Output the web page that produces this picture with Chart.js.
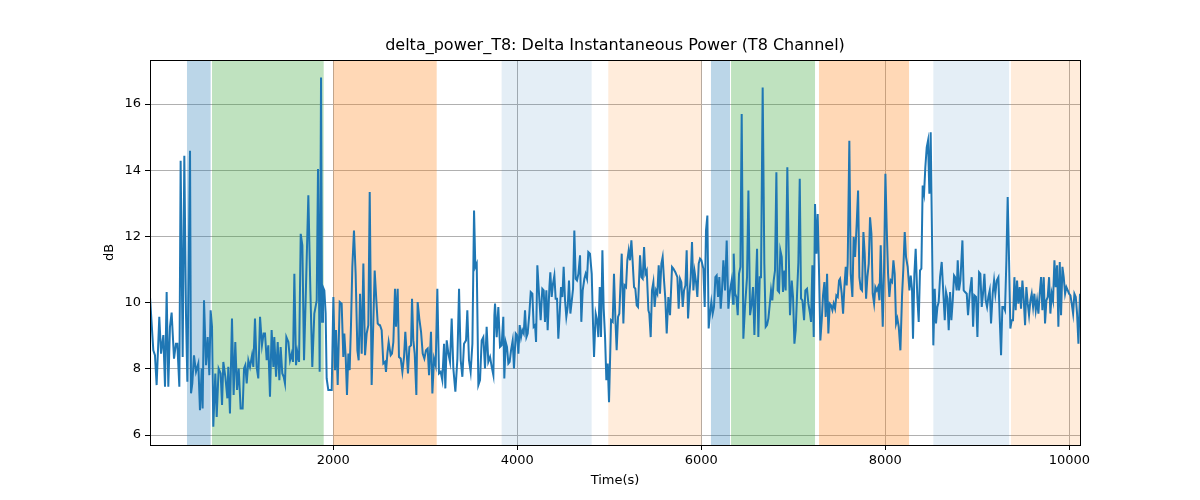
<!DOCTYPE html>
<html>
<head>
<meta charset="utf-8">
<script src="https://cdn.jsdelivr.net/npm/chart.js@4.4.1/dist/chart.umd.min.js"></script>
<style>
  html, body { margin: 0; padding: 0; background: #fff; }
  #wrap { width: 1200px; height: 500px; }
</style>
</head>
<body>
<div id="wrap"><canvas id="powerChart" width="1200" height="500"></canvas></div>
<script>
// sample times (s)
const timeSec = [
  8, 44, 62, 80, 109, 128, 153, 171, 189, 207, 225, 243, 269, 290, 305, 327, 341, 363, 381, 399,
  414, 443, 454, 468, 486, 508, 533, 551, 570, 580, 595, 617, 635, 653, 667, 682, 696, 718, 733, 754,
  776, 791, 805, 827, 849, 859, 877, 899, 917, 935, 954, 972, 993, 1015, 1030, 1044, 1059, 1077, 1095, 1117,
  1131, 1149, 1167, 1185, 1204, 1225, 1243,
  1258, 1276, 1294, 1312, 1330, 1349, 1359, 1378, 1396, 1414, 1428, 1446, 1461, 1475, 1490, 1512, 1530, 1548, 1562, 1577,
  1595, 1609, 1628, 1646, 1664, 1682, 1700, 1729, 1751, 1772, 1794, 1820, 1834, 1852, 1867, 1878, 1888, 1903, 1917, 1928,
  1946, 1965, 1983, 2001, 2019, 2030, 2048, 2070, 2091, 2109, 2120, 2135, 2149, 2164, 2178, 2193, 2207, 2225, 2243, 2262,
  2276, 2291, 2309, 2327, 2345, 2363, 2381, 2396, 2417, 2435, 2450, 2468, 2483, 2501,
  2508, 2526, 2544, 2562, 2573, 2588, 2602, 2624, 2638, 2653, 2671, 2682, 2700, 2714, 2733, 2751, 2769, 2783, 2798, 2812,
  2827, 2845, 2856, 2870, 2885, 2903, 2917, 2935, 2954, 2972, 2990, 3008, 3026, 3041, 3062, 3077, 3095, 3113, 3131, 3149,
  3167, 3185, 3204, 3218, 3233, 3251, 3269, 3287, 3305, 3327, 3349, 3367, 3385, 3403, 3421, 3443, 3457, 3475, 3493, 3512,
  3530, 3544, 3559, 3577, 3595, 3613, 3631, 3649, 3667, 3685, 3704, 3722, 3740, 3751,
  3758, 3776, 3794, 3812, 3830, 3848, 3859, 3874, 3888, 3903, 3917, 3932, 3950, 3964, 3983, 3997, 4012, 4026, 4041, 4055,
  4070, 4084, 4099, 4113, 4131, 4146, 4164, 4178, 4193, 4204, 4218, 4236, 4254, 4272, 4287, 4301, 4316, 4330, 4349, 4359,
  4374, 4388, 4403, 4417, 4432, 4446, 4461, 4475, 4490, 4504, 4519, 4533, 4548, 4562, 4577, 4591, 4606, 4620, 4635, 4649,
  4664, 4682, 4696, 4711, 4729, 4743, 4758, 4772, 4790, 4809, 4823, 4834, 4852, 4867, 4881, 4896, 4910, 4925, 4939, 4954,
  4968, 4983, 4997,
  5019, 5037, 5051, 5066, 5080, 5095, 5109, 5135, 5153, 5167, 5182, 5196, 5211, 5225, 5240, 5254, 5269, 5283, 5298, 5312,
  5334, 5349, 5363, 5378, 5392, 5407, 5425, 5435, 5450, 5464, 5479, 5493, 5508, 5522, 5537, 5551, 5566, 5580, 5595, 5609,
  5624, 5642, 5660, 5682, 5696, 5718, 5740, 5754, 5769, 5783, 5798, 5812, 5827, 5841, 5856, 5870, 5885, 5899, 5914, 5928,
  5943, 5957, 5972, 5986, 6001, 6022, 6037, 6051, 6066, 6080, 6095, 6109, 6124, 6138, 6153, 6167, 6182, 6196, 6211, 6225,
  6240,
  6258, 6276, 6294, 6312, 6330, 6345, 6352, 6367, 6381, 6396, 6410, 6425, 6439, 6457, 6475, 6497, 6512, 6530, 6548, 6562,
  6577, 6595, 6606, 6620, 6635, 6649, 6667, 6685, 6700, 6714, 6729, 6743, 6758, 6772, 6787, 6801, 6816, 6830, 6845, 6859,
  6874, 6888, 6903, 6917, 6935, 6950, 6964, 6983, 6997, 7012, 7026, 7041, 7055, 7070, 7084, 7099, 7117, 7131, 7149, 7164,
  7182, 7193, 7207, 7222, 7236, 7251, 7265, 7280, 7294, 7309, 7323, 7338, 7352, 7367, 7381, 7396, 7410, 7425, 7439, 7454,
  7468, 7483, 7497,
  7508, 7526, 7541, 7555, 7570, 7580, 7591, 7609, 7624, 7642, 7656, 7671, 7689, 7704, 7718, 7733, 7747, 7762, 7776, 7791,
  7805, 7820, 7834, 7849, 7863, 7878, 7892, 7907, 7921, 7936, 7950, 7965, 7972, 7986, 8001, 8015, 8030, 8044, 8059, 8073,
  8088, 8102, 8117, 8131, 8146, 8164, 8182, 8196, 8211, 8225, 8243, 8262, 8276, 8290, 8301, 8316, 8330, 8348, 8363, 8377,
  8392, 8406, 8421, 8435, 8450, 8464, 8479, 8493, 8508, 8522, 8537, 8551, 8566, 8580, 8595, 8613, 8631, 8646, 8660, 8675,
  8689, 8704, 8718, 8733, 8747,
  8758, 8776, 8787, 8801, 8816, 8838, 8852, 8867, 8885, 8899, 8917, 8939, 8954, 8968, 8986, 9001, 9019, 9033, 9048, 9062,
  9077, 9091, 9106, 9120, 9135, 9149, 9167, 9182, 9196, 9211, 9229, 9243, 9258, 9272, 9287, 9301, 9316, 9330, 9345, 9359,
  9374, 9388, 9403, 9417, 9432, 9446, 9461, 9475, 9490, 9504, 9519, 9533, 9548, 9562, 9577, 9591, 9606, 9620, 9635, 9649,
  9664, 9678, 9693, 9707, 9722, 9736, 9751, 9765, 9780, 9794, 9809, 9823, 9838, 9852, 9867, 9881, 9896, 9910, 9925, 9939,
  9954, 9968, 9983, 9997, 10012, 10026, 10041, 10055, 10070, 10084, 10099, 10116
];

// delta power (dB)
const deltaDb = [
  10.17, 8.56, 8.41, 7.51, 9.57, 8.46, 9.02, 7.46, 10.32, 7.46, 9.27, 9.70, 8.31, 8.76, 8.76, 7.46, 14.29, 8.36, 14.44, 9.67,
  7.61, 14.59, 7.26, 7.56, 8.41, 7.91, 8.16, 6.75, 8.01, 6.80, 10.07, 8.11, 8.96, 7.81, 9.77, 9.27, 6.25, 7.86, 6.55, 8.01,
  7.86, 6.91, 8.21, 7.76, 7.11, 8.06, 6.65, 9.52, 7.21, 8.81, 7.36, 8.01, 6.80, 6.80, 8.01, 8.11, 7.56, 8.26, 8.06, 8.41,
  8.06, 9.52, 8.06, 7.71, 9.57, 8.71, 9.07,
  9.07, 8.26, 8.71, 7.16, 9.17, 8.06, 8.96, 7.76, 8.81, 7.66, 8.66, 7.86, 7.76, 7.56, 8.96, 8.81, 8.26, 8.46, 8.21, 10.87,
  8.11, 8.51, 8.21, 12.08, 11.73, 8.26, 10.12, 13.24, 10.37, 8.06, 9.67, 10.07, 14.04, 7.91, 16.80, 9.42, 10.47, 10.37, 9.67, 7.71,
  7.36, 7.36, 7.36, 10.17, 7.96, 9.17, 7.51, 10.02, 9.97, 8.36, 9.07, 8.36, 7.21, 8.46, 7.96, 9.37, 11.08, 12.18, 10.87, 8.56,
  8.26, 10.27, 8.46, 11.18, 8.41, 9.07, 9.32, 13.34, 7.51, 9.37, 10.97, 10.07, 9.37, 9.32,
  9.32, 9.17, 8.16, 8.21, 7.91, 8.46, 8.81, 8.41, 8.46, 8.81, 10.42, 9.27, 10.42, 8.36, 8.31, 7.91, 8.36, 9.12, 8.46, 7.86,
  8.66, 8.71, 10.12, 8.86, 8.46, 7.21, 10.02, 9.52, 9.12, 8.46, 8.31, 8.56, 8.61, 7.81, 9.12, 7.26, 8.31, 8.11, 10.42, 7.86,
  7.91, 7.66, 8.76, 7.41, 8.86, 8.46, 8.21, 9.52, 8.01, 7.31, 8.31, 10.42, 8.26, 7.76, 8.76, 8.86, 9.77, 8.26, 7.91, 8.76,
  12.78, 11.08, 11.18, 7.51, 7.66, 8.86, 8.96, 8.01, 9.27, 8.21, 8.36, 8.06, 7.81, 9.62,
  9.97, 8.96, 9.87, 8.66, 8.71, 9.57, 7.71, 8.81, 8.66, 8.16, 8.21, 8.56, 8.86, 8.01, 9.07, 9.02, 8.46, 9.32, 8.96, 9.17,
  9.07, 9.77, 8.96, 9.07, 9.67, 10.32, 10.27, 9.27, 9.32, 8.81, 11.13, 10.27, 9.47, 10.42, 10.37, 9.42, 10.37, 9.17, 10.47, 10.92,
  10.17, 10.57, 10.82, 10.12, 10.12, 8.91, 9.67, 10.47, 10.17, 11.08, 10.07, 9.57, 9.87, 10.67, 9.67, 10.02, 10.42, 12.18, 10.72, 10.67,
  10.87, 11.43, 9.42, 10.37, 10.72, 10.87, 10.72, 11.53, 11.48, 10.87, 9.37, 8.36, 9.67, 9.47, 8.96, 10.47, 8.96, 11.58, 9.82, 8.96,
  7.66, 8.16, 6.99,
  9.47, 9.42, 10.87, 9.52, 8.56, 9.57, 9.67, 11.48, 9.37, 10.52, 10.47, 11.28, 11.58, 11.28, 11.88, 11.23, 10.47, 10.42, 9.92, 9.87,
  11.43, 10.77, 10.72, 11.68, 10.87, 10.97, 9.77, 9.67, 8.96, 10.37, 10.62, 9.87, 10.37, 10.27, 11.13, 10.27, 11.18, 11.38, 10.67, 10.12,
  9.07, 10.17, 9.62, 11.08, 11.03, 10.92, 10.77, 9.82, 10.72, 10.62, 9.87, 10.37, 10.52, 11.58, 9.52, 10.22, 10.77, 11.83, 10.37, 10.92,
  10.62, 10.17, 11.18, 11.33, 11.28, 11.03, 9.87, 12.18, 12.63, 9.22, 9.67, 10.02, 9.67, 9.87, 10.77, 10.82, 10.17, 10.77, 9.82, 10.37,
  11.28,
  10.37, 11.88, 9.82, 10.37, 10.67, 9.97, 11.48, 10.27, 10.17, 9.62, 10.87, 11.08, 15.70, 8.91, 9.87, 10.77, 13.39, 9.62, 9.97, 10.47,
  9.02, 10.67, 11.63, 8.96, 10.77, 10.77, 16.50, 11.18, 9.27, 9.32, 9.52, 9.92, 10.37, 10.07, 10.67, 10.97, 13.94, 10.37, 10.32, 11.58,
  11.38, 10.32, 10.97, 10.37, 14.09, 11.53, 9.62, 10.67, 10.17, 8.76, 9.17, 10.27, 11.23, 13.74, 10.12, 10.07, 9.47, 10.37, 10.42, 9.97,
  9.67, 9.42, 11.13, 8.96, 12.98, 11.48, 12.68, 10.87, 8.86, 9.47, 10.22, 10.62, 9.57, 10.87, 9.07, 9.97, 9.92, 9.77, 9.97, 9.82,
  10.22, 10.17, 10.67,
  10.72, 10.27, 9.67, 10.47, 11.08, 10.52, 11.18, 14.89, 10.87, 10.17, 11.98, 11.38, 12.38, 13.39, 10.77, 10.42, 10.37, 12.13, 11.48, 10.12,
  10.77, 11.18, 12.58, 12.08, 10.27, 9.97, 10.47, 10.37, 10.47, 10.07, 11.73, 9.97, 9.27, 10.97, 13.89, 12.28, 10.87, 10.17, 10.67, 10.62,
  11.28, 10.87, 9.37, 9.52, 9.27, 8.56, 10.22, 11.03, 12.13, 11.38, 11.08, 10.37, 10.82, 10.42, 8.91, 10.87, 11.63, 10.17, 9.42, 10.97,
  11.03, 13.54, 13.29, 14.09, 14.69, 14.89, 13.29, 15.15, 11.88, 8.71, 10.42, 9.37, 9.87, 10.02, 10.77, 11.23, 10.27, 9.47, 10.32, 10.12,
  9.17, 10.32, 9.47, 10.07, 10.82,
  10.77, 10.37, 11.28, 10.37, 10.67, 11.88, 10.37, 10.32, 10.27, 9.62, 10.27, 10.77, 9.27, 10.22, 10.17, 8.96, 10.92, 10.87, 9.87, 10.27,
  10.87, 10.07, 9.87, 10.17, 10.37, 9.37, 10.27, 10.67, 10.27, 10.67, 10.77, 9.57, 8.41, 9.87, 9.87, 9.77, 11.28, 13.19, 11.28, 9.22,
  9.47, 9.47, 10.77, 9.77, 10.67, 9.97, 10.47, 9.82, 10.67, 10.12, 9.32, 10.47, 9.97, 9.62, 10.07, 10.27, 9.87, 10.27, 9.77, 10.07,
  9.67, 10.27, 10.77, 9.77, 10.77, 9.37, 10.07, 10.17, 10.77, 9.67, 10.27, 10.07, 11.28, 10.47, 11.13, 9.27, 11.23, 9.62, 11.08, 10.77,
  10.27, 10.47, 10.37, 10.27, 10.22, 9.97, 9.67, 10.27, 10.17, 9.67, 8.76, 10.27
];

// shaded periods: start, end (s) and fill colour
const spanStart = [410, 682, 2000, 3830, 4989, 6105, 6323, 7279, 8522, 9366];
const spanEnd   = [667, 1896, 3124, 4808, 6004, 6312, 7236, 8258, 9345, 10116];
const spanColor = [
  'rgba(31,119,180,0.3)', 'rgba(44,160,44,0.3)', 'rgba(255,127,14,0.3)',
  'rgba(31,119,180,0.12)', 'rgba(255,127,14,0.15)',
  'rgba(31,119,180,0.3)', 'rgba(44,160,44,0.3)', 'rgba(255,127,14,0.3)',
  'rgba(31,119,180,0.12)', 'rgba(255,127,14,0.15)'
];

const xTicks = [2000, 4000, 6000, 8000, 10000];
const yTicks = [6, 8, 10, 12, 14, 16];

const points = timeSec.map((t, i) => ({ x: t, y: deltaDb[i] }));

const spans = {
  id: 'spans',
  beforeDatasetsDraw(chart) {
    const { ctx, chartArea: a, scales: { x } } = chart;
    ctx.save();
    ctx.beginPath();
    ctx.rect(a.left, a.top, a.right - a.left, a.bottom - a.top);
    ctx.clip();
    spanStart.forEach((s, i) => {
      const x0 = x.getPixelForValue(s);
      const x1 = x.getPixelForValue(spanEnd[i]);
      ctx.fillStyle = spanColor[i];
      ctx.fillRect(x0, a.top, x1 - x0, a.bottom - a.top);
    });
    ctx.restore();
  },
  afterDatasetsDraw(chart) {
    const { ctx, chartArea: a } = chart;
    ctx.save();
    ctx.strokeStyle = '#000';
    ctx.lineWidth = 1;
    ctx.strokeRect(Math.round(a.left) + 0.5, Math.round(a.top) + 0.5,
      Math.round(a.right - a.left), Math.round(a.bottom - a.top));
    ctx.restore();
  }
};

// title and axis labels, placed like the matplotlib figure
const labels = {
  id: 'labels',
  afterDraw(chart) {
    const { ctx, chartArea: a } = chart;
    ctx.save();
    ctx.fillStyle = '#000';
    ctx.textAlign = 'center';
    ctx.textBaseline = 'middle';
    ctx.font = '16px "DejaVu Sans"';
    ctx.fillText('delta_power_T8: Delta Instantaneous Power (T8 Channel)', (a.left + a.right) / 2, 46);
    ctx.font = '13px "DejaVu Sans"';
    ctx.fillText('Time(s)', (a.left + a.right) / 2, 481);
    ctx.translate(110, (a.top + a.bottom) / 2);
    ctx.rotate(-Math.PI / 2);
    ctx.fillText('dB', 0, 0);
    ctx.restore();
  }
};

new Chart(document.getElementById('powerChart'), {
  type: 'line',
  data: {
    datasets: [{
      data: points,
      borderColor: '#1f77b4',
      borderWidth: 2,
      pointRadius: 0,
      tension: 0,
      fill: false
    }]
  },
  options: {
    responsive: false,
    animation: false,
    layout: { padding: { left: 0, right: 120, top: 60, bottom: 0 } },
    plugins: {
      legend: { display: false },
      tooltip: { enabled: false },
      title: { display: false }
    },
    scales: {
      x: {
        type: 'linear',
        min: 8,
        max: 10116,
        afterBuildTicks: s => { s.ticks = xTicks.map(v => ({ value: v })); },
        afterFit: s => { s.height = 55; },
        grid: { color: '#b0b0b0', lineWidth: 1, tickLength: 5, tickColor: '#000' },
        border: { display: false },
        ticks: {
          color: '#000', padding: 3, maxRotation: 0,
          font: { family: 'DejaVu Sans', size: 13 },
          callback: v => String(v)
        }
      },
      y: {
        min: 5.7,
        max: 17.33,
        afterBuildTicks: s => { s.ticks = yTicks.map(v => ({ value: v })); },
        afterFit: s => { s.width = 150; },
        grid: { color: '#b0b0b0', lineWidth: 1, tickLength: 5, tickColor: '#000' },
        border: { display: false },
        ticks: {
          color: '#000', padding: 4,
          font: { family: 'DejaVu Sans', size: 13 },
          callback: v => String(v)
        }
      }
    }
  },
  plugins: [spans, labels]
});
</script>
</body>
</html>
